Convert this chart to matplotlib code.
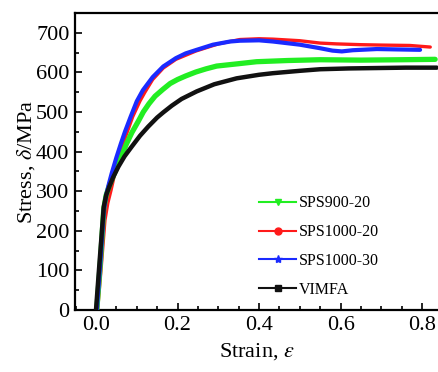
import matplotlib
matplotlib.use("Agg")
import matplotlib.pyplot as plt
from matplotlib.lines import Line2D
from matplotlib.ticker import MultipleLocator

plt.rcParams['font.family'] = ['Liberation Serif', 'DejaVu Serif']
plt.rcParams['mathtext.fontset'] = 'stix'

# Data
vimfa_x = [0.0, 0.009, 0.019, 0.025, 0.032, 0.042, 0.055, 0.07, 0.088, 0.108, 0.128, 0.15, 0.165, 0.186, 0.21, 0.247, 0.29, 0.345, 0.40, 0.434, 0.5, 0.55, 0.62, 0.689, 0.76, 0.836]
vimfa_y = [0, 125, 260, 290, 310, 335, 362, 388, 413, 440, 463, 486, 499, 516, 533, 552, 570, 585, 594, 598, 604, 608, 610, 611, 612, 612]

sps900_20_x = [0.002, 0.011, 0.019, 0.025, 0.032, 0.043, 0.053, 0.063, 0.075, 0.088, 0.104, 0.116, 0.13, 0.145, 0.164, 0.182, 0.2, 0.22, 0.245, 0.27, 0.296, 0.35, 0.394, 0.47, 0.55, 0.65, 0.75, 0.832]
sps900_20_y = [0, 125, 255, 290, 312, 340, 365, 390, 420, 448, 477, 500, 521, 540, 557, 572, 582, 591, 601, 609, 616, 622, 627, 630, 632, 631, 632, 633]

sps1000_20_x = [0.004, 0.013, 0.022, 0.029, 0.037, 0.045, 0.058, 0.072, 0.09, 0.108, 0.12, 0.139, 0.165, 0.196, 0.245, 0.3, 0.353, 0.4, 0.434, 0.5, 0.55, 0.59, 0.65, 0.7, 0.77, 0.82]
sps1000_20_y = [0, 110, 227, 270, 303, 340, 392, 436, 488, 528, 550, 582, 611, 633, 654, 672, 683, 685, 684, 680, 674, 672, 670, 669, 668, 664]

sps1000_30_x = [0.002, 0.011, 0.019, 0.025, 0.032, 0.0385, 0.05, 0.061, 0.071, 0.085, 0.1, 0.115, 0.139, 0.165, 0.196, 0.22, 0.247, 0.287, 0.329, 0.353, 0.4, 0.434, 0.5, 0.55, 0.58, 0.603, 0.63, 0.689, 0.74, 0.795]
sps1000_30_y = [0, 125, 250, 290, 320, 345, 385, 420, 450, 488, 527, 555, 588, 615, 636, 648, 657, 670, 678, 680, 681, 678, 670, 661, 655, 653, 656, 659, 658, 657]

labels = ['SPS900-20', 'SPS1000-20', 'SPS1000-30', 'VIMFA']

fig = plt.figure(figsize=(4.38, 3.72), dpi=100)
ax = fig.add_axes([75/438, 62/372, (438-75)/438, (310-13)/372])

ax.plot(sps1000_20_x, sps1000_20_y, color='#ff1a1a', lw=2.4, solid_capstyle='round', solid_joinstyle='round', zorder=2)
ax.plot(sps900_20_x, sps900_20_y, color='#22ee22', lw=3.8, solid_capstyle='round', solid_joinstyle='round', zorder=3)
ax.plot(sps1000_30_x, sps1000_30_y, color='#1a2aff', lw=3.0, solid_capstyle='round', solid_joinstyle='round', zorder=4)
ax.plot(vimfa_x, vimfa_y, color='#111111', lw=3.2, solid_capstyle='round', solid_joinstyle='round', zorder=5)

ax.set_xlim(-0.0515, 0.839)
ax.set_ylim(0, 750)
ax.xaxis.set_minor_locator(MultipleLocator(0.05))
ax.yaxis.set_minor_locator(MultipleLocator(50))
ax.tick_params(which='both', direction='in', top=False, right=False, labelsize=16, width=1.2)
ax.tick_params(which='major', length=5, pad=4)
ax.tick_params(which='minor', length=3)
ax.set_yticks(range(0, 701, 100))
ax.set_yticklabels([str(v) for v in range(0, 701, 100)])
ax.set_xticks([0.0, 0.2, 0.4, 0.6, 0.8])
ax.set_xticklabels(['0.0', '0.2', '0.4', '0.6', '0.8'])

for s in ['left', 'bottom', 'top']:
    ax.spines[s].set_linewidth(1.6)
ax.spines['right'].set_visible(False)

ax.set_xlabel(r'Strain, $\varepsilon$', fontsize=16, labelpad=5)
ax.set_ylabel(r'Stress, $\delta$/MPa', fontsize=16, labelpad=-1)

handles = [
    Line2D([], [], color='#22ee22', lw=1.5, marker='v', markersize=5),
    Line2D([], [], color='#ff1a1a', lw=1.5, marker='o', markersize=5),
    Line2D([], [], color='#1a2aff', lw=1.5, marker='*', markersize=6),
    Line2D([], [], color='#111111', lw=1.5, marker='s', markersize=4),
]
ax.legend(handles, labels, loc='upper left', bbox_to_anchor=(0.508, 0.386), frameon=False,
          fontsize=11.5, handlelength=2.3, handletextpad=0.15, labelspacing=0.8,
          borderpad=0, borderaxespad=0)

fig.savefig('out.png', dpi=100)
